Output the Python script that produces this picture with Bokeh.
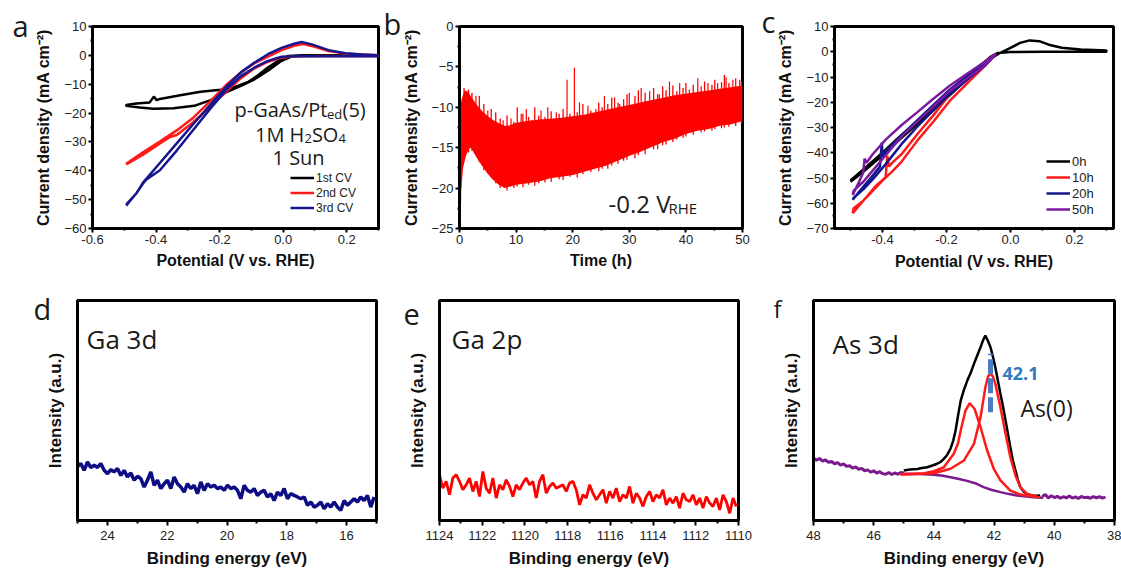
import numpy as np
from bokeh.plotting import figure
from bokeh.models import Range1d, FixedTicker, NumeralTickFormatter, Label, Legend, LegendItem, Title
from bokeh.layouts import column, row
from bokeh.embed import file_html
from bokeh.resources import INLINE

# ---------------- data ----------------
# (a) three CVs, p-GaAs/Pt_ed(5)
a_cv1_x = [0.30, 0.14, 0.058, 0.016, -0.016, -0.048, -0.08, -0.112, -0.154, -0.197, -0.26, -0.324, -0.388, -0.398,
           -0.407, -0.42, -0.462, -0.494, -0.494, -0.451, -0.409, -0.345, -0.28, -0.228, -0.175, -0.133, -0.09,
           -0.048, -0.005, 0.026, 0.058, 0.30]
a_cv1_y = [0.0, 0.0, 0.0, -0.2, -1.9, -4.2, -7.0, -9.3, -11.0, -11.9, -12.6, -13.8, -15.1, -15.5, -14.3, -16.3,
           -16.7, -17.2, -17.5, -18.1, -18.5, -18.3, -17.5, -15.5, -12.6, -10.6, -8.3, -5.3, -1.9, -0.4, -0.1, -0.1]
a_cv2_x = [-0.494, -0.441, -0.388, -0.335, -0.282, -0.228, -0.175, -0.133, -0.09, -0.048, -0.005, 0.037, 0.063,
           0.1, 0.143, 0.196, 0.249, 0.3, 0.3, 0.143, 0.037, -0.005, -0.048, -0.09, -0.133, -0.175, -0.228, -0.282,
           -0.335, -0.356, -0.388, -0.441, -0.494]
a_cv2_y = [-37.6, -33.6, -29.9, -26.0, -21.5, -15.8, -9.8, -5.9, -2.7, -0.4, 1.8, 3.4, 3.9, 3.0, 1.5, 0.6, 0.3,
           0.0, -0.2, -0.2, -0.3, -0.8, -2.2, -4.5, -7.9, -12.1, -17.7, -23.1, -27.6, -28.3, -30.5, -34.4, -37.8]
a_cv3_x = [-0.494, -0.462, -0.441, -0.388, -0.335, -0.282, -0.228, -0.175, -0.133, -0.09, -0.048, -0.005, 0.037,
           0.058, 0.09, 0.143, 0.196, 0.249, 0.3, 0.3, 0.037, -0.005, -0.048, -0.09, -0.133, -0.175, -0.228,
           -0.282, -0.335, -0.388, -0.43, -0.441, -0.462, -0.494]
a_cv3_y = [-51.7, -47.8, -44.1, -37.3, -30.5, -23.7, -17.0, -10.4, -5.9, -2.5, 0.4, 2.6, 4.1, 4.6, 3.8, 1.8, 0.7,
           0.3, 0.0, -0.3, -0.3, -0.5, -1.9, -4.2, -7.2, -11.5, -18.3, -25.7, -33.0, -39.8, -43.0, -44.4, -47.8,
           -52.1]

# (b) chronoamperometry at -0.2 V_RHE: dense band envelope + oscillation hairs + spikes
b_t_band = [0.2, 0.5, 1, 1.5, 2, 2.5, 3, 4, 5, 6, 7, 8, 9, 10, 12, 14, 16, 18, 20, 22, 24, 26, 28, 30, 32, 34, 36,
            38, 40, 42, 44, 46, 48, 50]
b_j_upper = [-10.5, -9.0, -8.0, -8.2, -8.8, -9.3, -9.8, -10.6, -11.2, -11.7, -12.1, -12.4, -12.3, -12.0, -11.8,
             -11.6, -11.5, -11.4, -11.2, -11.0, -10.7, -10.4, -10.1, -9.8, -9.5, -9.2, -8.9, -8.6, -8.4, -8.2,
             -8.0, -7.8, -7.6, -7.4]
b_j_lower = [-20.0, -17.5, -16.0, -15.2, -14.8, -15.4, -16.0, -17.1, -18.1, -18.9, -19.5, -19.9, -19.7, -19.5,
             -19.3, -19.1, -18.7, -18.5, -18.3, -17.9, -17.5, -17.1, -16.5, -15.9, -15.4, -14.8, -14.2, -13.8,
             -13.2, -12.8, -12.6, -12.2, -12.0, -11.6]
b_t_init = [0.05, 0.1, 0.2]
b_j_init = [-11.5, -24.5, -19.5]
b_hair_t = [0.8, 1.6, 2.2, 3.5, 4.3, 5.6, 6.4, 7.2, 8.4, 9.6, 10.2, 11.2, 12.2, 13.3, 14.0, 15.1, 16.2, 17.6, 18.3,
            19.5, 20.8, 21.8, 23.2, 24.6, 25.2, 26.2, 26.9, 28.0, 29.0, 29.6, 31.0, 31.6, 32.8, 34.3, 35.0, 35.9,
            36.5, 37.7, 38.4, 39.5, 40.0, 41.3, 42.7, 43.3, 44.6, 45.1, 46.3, 46.8, 47.6, 48.8, 49.8]
b_hair_high = [-7.6, -7.8, -8.2, -8.6, -9.6, -10.2, -10.6, -11.4, -11.0, -11.8, -10.0, -10.8, -11.2, -10.0, -11.0,
               -11.2, -10.5, -10.8, -10.2, -10.8, -10.6, -9.6, -10.4, -9.4, -10.0, -9.6, -8.8, -9.4, -9.0, -8.4,
               -8.6, -7.9, -8.2, -7.6, -8.4, -7.4, -7.9, -7.3, -8.0, -7.6, -7.0, -7.2, -7.4, -6.8, -7.2, -6.6,
               -6.9, -6.0, -7.0, -6.4, -6.8]
b_hair_low = [-16.5, -15.6, -15.4, -16.8, -17.8, -18.6, -19.4, -20.0, -20.3, -20.0, -19.8, -19.9, -19.6, -19.7,
              -19.4, -19.3, -19.2, -18.9, -19.0, -18.6, -18.7, -18.3, -18.0, -17.9, -17.6, -17.6, -17.2, -17.0,
              -16.6, -16.5, -16.3, -15.9, -15.8, -15.2, -15.2, -14.7, -14.6, -14.3, -14.0, -13.8, -13.6, -13.4,
              -13.1, -13.0, -12.9, -12.7, -12.6, -12.5, -12.4, -12.3, -12.0]
b_spike_t = [2.9, 5.0, 7.7, 9.1, 10.9, 11.8, 12.7, 14.4, 15.6, 17.1, 19.0, 20.3, 21.2, 22.7, 24.1, 25.6, 27.4,
             28.3, 30.0, 32.1, 33.6, 35.3, 37.1, 38.9, 40.6, 42.1, 43.9, 45.6, 47.1, 48.3, 49.5]
b_spike_top = [-8.6, -10.4, -11.6, -11.4, -10.8, -10.2, -11.6, -10.4, -10.0, -10.6, -6.6, -5.1, -9.4, -9.8,
               -10.2, -8.6, -8.8, -9.6, -8.2, -7.6, -8.0, -8.4, -6.8, -7.0, -7.8, -6.4, -7.0, -7.0, -6.3, -6.6,
               -6.6]
b_spike_base = [-9.8, -11.2, -12.3, -12.3, -12.0, -11.9, -11.8, -11.7, -11.6, -11.5, -11.3, -11.2, -11.1, -11.0,
                -10.8, -10.6, -10.3, -10.2, -9.8, -9.5, -9.3, -9.0, -8.7, -8.6, -8.4, -8.2, -8.0, -7.9, -7.7,
                -7.6, -7.5]

# (c) CVs after 0 h, 10 h, 20 h, 50 h
c_0h_x = [-0.50, -0.45, -0.40, -0.35, -0.30, -0.25, -0.20, -0.15, -0.10, -0.06, -0.03, 0.0, 0.03, 0.06, 0.09,
          0.12, 0.16, 0.22, 0.30, 0.30, 0.10, 0.0, -0.04, -0.06, -0.10, -0.15, -0.20, -0.25, -0.30, -0.35, -0.40,
          -0.45, -0.50]
c_0h_y = [-51.5, -46.5, -41.0, -35.2, -29.5, -24.2, -18.5, -12.5, -7.0, -2.5, -0.3, 1.5, 3.5, 4.5, 4.2, 2.8, 1.6,
          0.9, 0.5, 0.0, 0.0, -0.1, -0.5, -1.8, -6.0, -11.5, -17.5, -23.0, -28.5, -34.0, -40.0, -45.5, -51.0]
c_10h_x = [-0.045, -0.08, -0.13, -0.19, -0.24, -0.29, -0.34, -0.37, -0.38, -0.385, -0.39, -0.42, -0.45, -0.493,
           -0.49, -0.46, -0.43, -0.40, -0.37, -0.34, -0.29, -0.24, -0.19, -0.13, -0.08, -0.045]
c_10h_y = [-0.8, -4.2, -9.5, -16.8, -25.0, -32.5, -40.5, -44.0, -45.5, -41.2, -49.7, -53.0, -57.5, -63.9, -62.0,
           -59.0, -55.0, -51.0, -47.5, -43.5, -35.0, -27.5, -19.5, -11.8, -5.6, -0.8]
c_20h_x = [-0.045, -0.08, -0.13, -0.19, -0.24, -0.29, -0.34, -0.39, -0.40, -0.402, -0.408, -0.44, -0.47, -0.493,
           -0.49, -0.46, -0.43, -0.39, -0.34, -0.29, -0.24, -0.19, -0.13, -0.08, -0.045]
c_20h_y = [-0.8, -4.5, -9.0, -15.0, -21.0, -27.0, -33.0, -39.5, -41.5, -36.0, -45.5, -50.5, -55.0, -58.6, -57.8,
           -54.5, -50.5, -44.5, -36.5, -29.5, -23.0, -16.8, -10.5, -5.5, -0.8]
c_50h_x = [-0.045, -0.08, -0.13, -0.19, -0.24, -0.29, -0.34, -0.39, -0.43, -0.45, -0.456, -0.46, -0.475, -0.493,
           -0.49, -0.46, -0.43, -0.39, -0.34, -0.29, -0.24, -0.19, -0.13, -0.08, -0.045]
c_50h_y = [-0.8, -4.0, -8.2, -13.5, -18.5, -23.8, -29.0, -34.8, -40.5, -44.0, -42.3, -47.8, -52.0, -56.7, -55.0,
           -51.5, -47.0, -41.0, -33.5, -27.5, -21.5, -15.5, -10.0, -5.5, -0.8]

# (d) Ga 3d XPS (energy grid 25 -> 15.08 eV)
d_intensity = [24.4, 25.9, 22.8, 26.6, 24.1, 25.1, 24.1, 25.9, 22.8, 21.3, 23.1, 22.1, 23.6, 20.5, 22.8, 19.8,
               21.6, 18.3, 20.1, 19.0, 15.2, 18.3, 22.1, 16.0, 18.3, 14.5, 16.7, 18.3, 14.5, 19.8, 16.7, 15.2,
               12.9, 16.7, 14.5, 16.0, 12.2, 17.5, 13.7, 16.7, 15.2, 16.0, 14.5, 15.2, 13.7, 16.0, 14.5, 15.2,
               13.7, 9.9, 16.0, 13.7, 12.9, 14.5, 11.4, 12.9, 13.7, 10.7, 12.2, 9.1, 12.9, 11.4, 14.5, 9.9, 12.2,
               11.4, 10.7, 9.9, 10.7, 6.9, 8.4, 6.1, 6.9, 8.4, 5.3, 7.6, 6.1, 8.4, 6.1, 4.6, 9.1, 6.9, 8.4, 9.9,
               8.4, 10.7, 9.1, 11.4, 6.1, 10.7]
d_energy = np.linspace(25.0, 15.08, len(d_intensity))

# (e) Ga 2p XPS (energy grid 1124 -> 1110.1 eV)
e_intensity = [20.8, 14.7, 17.8, 11.7, 19.3, 20.8, 17.8, 14.0, 16.2, 19.3, 13.2, 17.8, 10.9, 22.3, 14.7, 12.4,
               19.3, 10.2, 16.2, 14.0, 18.5, 15.5, 10.9, 16.2, 14.0, 17.0, 19.3, 16.2, 17.8, 10.2, 17.8, 20.8,
               12.4, 15.5, 17.0, 14.7, 15.5, 16.2, 13.2, 17.0, 17.8, 14.0, 7.1, 11.7, 10.2, 16.2, 12.4, 9.4,
               11.7, 14.0, 7.9, 13.2, 10.2, 14.7, 8.6, 11.7, 10.2, 15.5, 7.9, 12.4, 10.2, 6.4, 10.9, 13.2, 8.6,
               11.7, 10.2, 14.0, 7.1, 10.2, 7.9, 10.9, 5.6, 12.4, 9.4, 8.6, 11.7, 7.1, 10.2, 5.6, 10.9, 7.9, 6.4,
               10.2, 4.8, 11.7, 8.6, 3.3, 10.2, 6.4]
e_energy = np.linspace(1124.0, 1110.1, len(e_intensity))

# (f) As 3d XPS
f_raw_left = [28.5, 27.4, 28.2, 27.0, 27.6, 26.4, 26.9, 25.8, 26.3, 25.2, 25.7, 24.6, 24.9, 23.8, 24.4, 23.3, 23.7,
              22.6, 23.0, 22.0, 22.6, 21.5, 22.2, 21.3, 21.0, 21.8, 20.9, 21.6, 21.1, 21.8, 21.6]
f_raw_left_e = np.linspace(48.0, 45.0, len(f_raw_left))
f_raw_right = [10.9, 11.8, 10.2, 11.3, 10.4, 11.0, 10.1, 10.8, 10.3, 11.1, 10.2, 10.7, 10.0, 10.9, 10.4, 10.6,
               10.1, 10.9, 10.3, 10.8, 10.2, 10.6]
f_raw_right_e = np.linspace(40.4, 38.3, len(f_raw_right))
f_data_e = [45.0, 44.8, 44.55, 44.4, 44.22, 44.05, 43.89, 43.78, 43.67, 43.56, 43.45, 43.36, 43.28, 43.2, 43.11,
            43.0, 42.89, 42.78, 42.67, 42.56, 42.45, 42.37, 42.29, 42.2, 42.12, 42.04, 41.96, 41.88, 41.79, 41.7,
            41.62, 41.54, 41.46, 41.38, 41.29, 41.21, 41.13, 41.02, 40.91, 40.8, 40.69, 40.58, 40.47]
f_data_i = [22.7, 23.2, 23.4, 23.9, 24.2, 25.0, 25.8, 26.6, 28.0, 29.8, 32.6, 36.2, 40.9, 47.5, 54.5, 59.5, 63.6,
            67.0, 71.2, 75.0, 78.8, 81.8, 84.1, 81.5, 78.8, 74.5, 69.7, 64.0, 57.6, 51.5, 45.5, 39.5, 33.3, 27.5,
            22.7, 18.5, 15.2, 13.2, 12.1, 11.6, 11.4, 11.3, 11.4]
f_bg_e = [45.1, 44.5, 44.0, 43.7, 43.45, 43.2, 42.9, 42.6, 42.35, 42.1, 41.79, 41.5, 41.24, 41.0, 40.7, 40.37]
f_bg_i = [21.3, 21.1, 20.8, 20.3, 19.7, 19.0, 18.0, 16.8, 15.2, 14.0, 12.9, 12.0, 11.4, 11.0, 10.6, 10.3]
f_p1_e = [45.11, 44.44, 44.0, 43.67, 43.34, 43.2, 43.11, 42.95, 42.81, 42.65, 42.45, 42.23, 42.01, 41.79, 41.46,
          41.13, 40.69, 40.47]
f_p1_i = [21.0, 21.2, 22.4, 24.2, 30.3, 35.0, 40.9, 50.0, 53.3, 50.8, 42.4, 31.8, 23.5, 18.2, 13.6, 11.8, 10.9,
          10.6]
f_p2_e = [45.11, 44.0, 43.45, 43.0, 42.67, 42.45, 42.29, 42.2, 42.12, 42.04, 41.96, 41.79, 41.62, 41.46, 41.29,
          41.13, 40.91, 40.58]
f_p2_i = [20.9, 21.5, 23.5, 27.3, 34.8, 47.0, 60.6, 65.5, 66.7, 65.5, 62.1, 51.5, 39.4, 28.8, 20.5, 15.2, 12.1,
          10.9]
f_mark_e = [42.12, 42.12]
f_mark_i = [49.2, 75.8]

# ---------------- helpers ----------------
TXT = "#1a1a1a"


def make_fig(w, h, left, right, top, bottom, xr, yr, label_size="16px"):
    p = figure(width=w, height=h, min_border_left=left, min_border_right=right, min_border_top=top,
               min_border_bottom=bottom, x_range=Range1d(*xr), y_range=Range1d(*yr), title=None,
               output_backend="svg", toolbar_location=None)
    p.grid.visible = False
    p.outline_line_color = "black"
    p.outline_line_width = 3
    p.background_fill_color = "white"
    p.border_fill_color = "white"
    for ax in p.axis:
        ax.axis_line_width = 3
        ax.axis_line_color = "black"
        ax.major_tick_line_width = 2
        ax.minor_tick_line_width = 2
        ax.major_tick_out = 4
        ax.major_tick_in = 0
        ax.minor_tick_out = 2
        ax.minor_tick_in = 0
        ax.major_label_text_font = "Liberation Sans"
        ax.major_label_text_font_size = "13px"
        ax.major_label_text_color = "#222222"
        ax.major_label_standoff = 2
        ax.axis_label_text_font = "Liberation Sans"
        ax.axis_label_text_font_style = "bold"
        ax.axis_label_text_font_size = label_size
        ax.axis_label_text_color = "#111111"
    return p


def lab(p, fl, fb, x, y, text, size, font="Open Sans", color=TXT, style="normal"):
    p.add_layout(Label(x=x - fl, y=fb - y, x_units="screen", y_units="screen", text=text,
                       text_font=font, text_font_size=f"{size}px", text_color=color,
                       text_font_style=style, text_baseline="alphabetic", text_align="left"))


def letter(p, text, offset, standoff, size=29):
    p.add_layout(Title(text=text, align="left", vertical_align="bottom", offset=offset, standoff=standoff,
                       text_font="Open Sans", text_font_size=f"{size}px", text_font_style="normal",
                       text_color=TXT), "above")


def style_legend(lg):
    lg.border_line_color = None
    lg.background_fill_alpha = 0
    lg.padding = 0
    lg.margin = 0
    lg.spacing = 0
    lg.glyph_width = 24
    lg.label_standoff = 2
    lg.label_text_font = "Liberation Sans"
    lg.label_text_color = "#222222"


YLAB = "Current density (mA cm\u207b\u00b2)"

# ---------------- panel a ----------------
pa = make_fig(380, 290, 92, 2, 22, 62, (-0.6, 0.3), (-60, 10))
pa.xaxis.ticker = FixedTicker(ticks=[-0.6, -0.4, -0.2, 0.0, 0.2], minor_ticks=[-0.5, -0.3, -0.1, 0.1, 0.3])
pa.xaxis.formatter = NumeralTickFormatter(format="0.0")
pa.yaxis.ticker = FixedTicker(ticks=[10, 0, -10, -20, -30, -40, -50, -60],
                              minor_ticks=[5, -5, -15, -25, -35, -45, -55])
pa.xaxis.axis_label = "Potential (V vs. RHE)"
pa.yaxis.axis_label = YLAB
pa.xaxis.axis_label_standoff = 5
pa.yaxis.axis_label_standoff = 9
ra1 = pa.line(a_cv1_x, a_cv1_y, line_color="black", line_width=2.5)
ra2 = pa.line(a_cv2_x, a_cv2_y, line_color="#ff1a1a", line_width=2.5)
ra3 = pa.line(a_cv3_x, a_cv3_y, line_color="#16168f", line_width=2.5)
lga = Legend(items=[LegendItem(label="1st CV", renderers=[ra1]), LegendItem(label="2nd CV", renderers=[ra2]),
                    LegendItem(label="3rd CV", renderers=[ra3])], location=(198, 13))
style_legend(lga)
lga.glyph_height = 15
lga.label_height = 15
lga.label_text_font_size = "12px"
pa.add_layout(lga)
FA = (92, 228)
letter(pa, "a", 12 - 92, -36)
lab(pa, *FA, 234, 109, "p-GaAs/Pt", 20)
lab(pa, *FA, 326.5, 113, "ed", 13)
lab(pa, *FA, 342, 109, "(5)", 20)
lab(pa, *FA, 254.5, 134, "1M H", 20)
lab(pa, *FA, 304, 138, "2", 13)
lab(pa, *FA, 311.4, 134, "SO", 20)
lab(pa, *FA, 338, 138, "4", 13)
lab(pa, *FA, 272, 157, "1 Sun", 20)

# ---------------- panel b ----------------
pb = make_fig(380, 290, 79, 18, 24, 57, (0, 50), (-25, 0))
pb.xaxis.ticker = FixedTicker(ticks=[0, 10, 20, 30, 40, 50], minor_ticks=[5, 15, 25, 35, 45])
pb.yaxis.ticker = FixedTicker(ticks=[0, -5, -10, -15, -20, -25],
                              minor_ticks=[-2.5, -7.5, -12.5, -17.5, -22.5])
pb.xaxis.axis_label = "Time (h)"
pb.yaxis.axis_label = YLAB
pb.xaxis.axis_label_standoff = 5
pb.yaxis.axis_label_standoff = 8
RED = "#ff0000"
pb.varea(x=b_t_band, y1=b_j_lower, y2=b_j_upper, fill_color=RED)
pb.line(b_t_band, b_j_upper, line_color=RED, line_width=1.5)
pb.line(b_t_band, b_j_lower, line_color=RED, line_width=1.5)
pb.line(b_t_init, b_j_init, line_color=RED, line_width=1.5)
pb.segment(x0=b_hair_t, y0=b_hair_low, x1=b_hair_t, y1=b_hair_high, line_color=RED, line_width=1.3)
pb.segment(x0=b_spike_t, y0=b_spike_base, x1=b_spike_t, y1=b_spike_top, line_color=RED, line_width=1.2)
FB = (459, 233)
letter(pb, "b", 383 - 459, -32)
lab(pb, *FB, 608, 208, "-0.2 V", 24)
lab(pb, *FB, 668, 212, "RHE", 15)

# ---------------- panel c ----------------
pc = make_fig(361, 290, 74, 8, 26, 60, (-0.55, 0.322), (-70, 10))
pc.xaxis.ticker = FixedTicker(ticks=[-0.4, -0.2, 0.0, 0.2], minor_ticks=[-0.5, -0.3, -0.1, 0.1, 0.3])
pc.xaxis.formatter = NumeralTickFormatter(format="0.0")
pc.yaxis.ticker = FixedTicker(ticks=[10, 0, -10, -20, -30, -40, -50, -60, -70],
                              minor_ticks=[5, -5, -15, -25, -35, -45, -55, -65])
pc.xaxis.axis_label = "Potential (V vs. RHE)"
pc.yaxis.axis_label = YLAB
pc.xaxis.axis_label_standoff = 6
pc.yaxis.axis_label_standoff = 9
rc0 = pc.line(c_0h_x, c_0h_y, line_color="black", line_width=2.5)
rc1 = pc.line(c_10h_x, c_10h_y, line_color="#ff1a1a", line_width=2.5)
rc2 = pc.line(c_20h_x, c_20h_y, line_color="#14168c", line_width=2.5)
rc3 = pc.line(c_50h_x, c_50h_y, line_color="#7a1a9e", line_width=2.5)
lgc = Legend(items=[LegendItem(label="0h", renderers=[rc0]), LegendItem(label="10h", renderers=[rc1]),
                    LegendItem(label="20h", renderers=[rc2]), LegendItem(label="50h", renderers=[rc3])],
             location=(212, 11))
style_legend(lgc)
lgc.glyph_height = 16
lgc.label_height = 16
lgc.label_text_font_size = "13px"
pc.add_layout(lgc)
letter(pc, "c", 761 - 834, -28)


# ---------------- panels d, e, f ----------------
def xps_axes(p, ticks, minors):
    p.xaxis.ticker = FixedTicker(ticks=ticks, minor_ticks=minors)
    p.xaxis.major_tick_out = 5
    p.xaxis.minor_tick_out = 3
    p.xaxis.major_label_standoff = 5
    p.xaxis.axis_label = "Binding energy (eV)"
    p.xaxis.axis_label_standoff = 6
    p.yaxis.ticker = FixedTicker(ticks=[], minor_ticks=[])
    p.yaxis.major_tick_out = 0
    p.yaxis.minor_tick_out = 0
    p.yaxis.axis_label = "Intensity (a.u.)"
    p.yaxis.axis_label_standoff = 13


pd = make_fig(380, 281, 77, 4, 10, 51, (25, 15), (0, 100), label_size="17px")
xps_axes(pd, [24, 22, 20, 18, 16], [25, 23, 21, 19, 17, 15])
pd.line(d_energy, d_intensity, line_color="#0c0c85", line_width=3.5)
FD = (77, 520)
letter(pd, "d", 33 - 77, -54)
lab(pd, *FD, 86, 338, "Ga 3d", 26)

pe = make_fig(380, 281, 59, 22, 10, 51, (1124, 1110), (0, 100), label_size="17px")
xps_axes(pe, [1124, 1122, 1120, 1118, 1116, 1114, 1112, 1110], [1123, 1121, 1119, 1117, 1115, 1113, 1111])
pe.line(e_energy, e_intensity, line_color=RED, line_width=2.8)
FE = (439, 520)
letter(pe, "e", 403 - 439, -48)
lab(pe, *FE, 451, 338, "Ga 2p", 26)

pf = make_fig(361, 281, 53, 7, 10, 51, (48, 38), (0, 100), label_size="17px")
xps_axes(pf, [48, 46, 44, 42, 40, 38], [47, 45, 43, 41, 39])
PURPLE = "#7a1a8c"
pf.line(f_raw_left_e, f_raw_left, line_color=PURPLE, line_width=3)
pf.line(f_raw_right_e, f_raw_right, line_color=PURPLE, line_width=3)
pf.line(f_bg_e, f_bg_i, line_color=PURPLE, line_width=2.5)
pf.line(f_data_e, f_data_i, line_color="black", line_width=2.5)
pf.line(f_p1_e, f_p1_i, line_color="#ff1a1a", line_width=2.5)
pf.line(f_p2_e, f_p2_i, line_color="#ff1a1a", line_width=2.5)
pf.line(f_mark_e, f_mark_i, line_color="#4a7cc4", line_width=5, line_dash="15 4")
FF = (813, 520)
letter(pf, "f", 773 - 813, -48, size=24)
lab(pf, *FF, 832, 343, "As 3d", 26)
lab(pf, *FF, 1002, 373, "42.1", 18, color="#2f7bc0", style="bold")
lab(pf, *FF, 1020, 407, "As(0)", 23)

layout = column(row(pa, pb, pc), row(pd, pe, pf))
open("out.html", "w").write(file_html(layout, INLINE))
